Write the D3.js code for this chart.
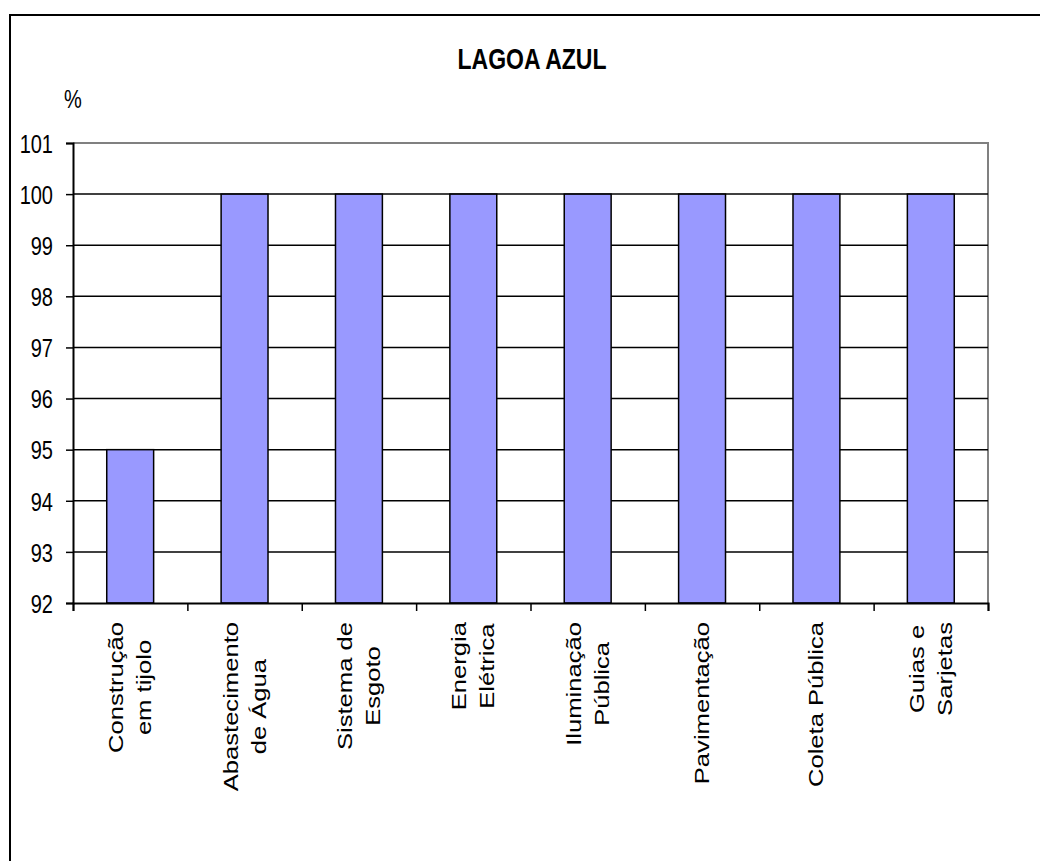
<!DOCTYPE html>
<html>
<head>
<meta charset="utf-8">
<script src="https://cdn.jsdelivr.net/npm/d3@7"></script>
<style>
  body { margin: 0; background: #fff; }
  svg { display: block; font-family: "Liberation Sans", Arial, sans-serif; }
</style>
</head>
<body>
<svg id="chart" width="1040" height="861"></svg>
<script>
const categories = [
    ["Construção", "em tijolo"],
    ["Abastecimento", "de Água"],
    ["Sistema de", "Esgoto"],
    ["Energia", "Elétrica"],
    ["Iluminação", "Pública"],
    ["Pavimentação"],
    ["Coleta Pública"],
    ["Guias e", "Sarjetas"]
];
const values = [95, 100, 100, 100, 100, 100, 100, 100];
const yTicks = [92, 93, 94, 95, 96, 97, 98, 99, 100, 101];

const svg = d3.select("#chart");
const S = 1.28; // the original picture is stretched vertically
const margin = {top: 143, right: 52, bottom: 258, left: 73};
const width = 1040 - margin.right;
const height = 861 - margin.bottom;

// outer frame (right and bottom edges fall outside the picture)
svg.append("rect")
    .attr("x", 10).attr("y", 15)
    .attr("width", 1100).attr("height", 1000)
    .attr("fill", "none")
    .attr("stroke", "#000")
    .attr("stroke-width", 2);

const x = d3.scaleBand()
    .domain(d3.range(categories.length))
    .range([margin.left, width]);

const y = d3.scaleLinear()
    .domain([92, 101])
    .range([height, margin.top]);

// plot border (top and right gray)
svg.append("path")
    .attr("d", `M${margin.left},${margin.top}H${width}V${height}`)
    .attr("fill", "none")
    .attr("stroke", "#808080")
    .attr("stroke-width", 2);

// gridlines
svg.append("g")
    .selectAll("line")
    .data(yTicks.filter(d => d > 92 && d < 101))
    .enter()
    .append("line")
    .attr("x1", margin.left).attr("x2", width)
    .attr("y1", d => y(d)).attr("y2", d => y(d))
    .attr("stroke", "#000")
    .attr("stroke-width", 1.5);

// bars
const barW = x.bandwidth() * 0.41;
svg.append("g")
    .selectAll("rect")
    .data(values)
    .enter()
    .append("rect")
    .attr("x", (d, i) => x(i) + x.bandwidth() / 2 - barW / 2)
    .attr("y", d => y(d))
    .attr("width", barW)
    .attr("height", d => y(92) - y(d))
    .attr("fill", "#9999FF")
    .attr("stroke", "#000")
    .attr("stroke-width", 1.5);

// y axis
const yAxis = svg.append("g")
    .attr("transform", `translate(${margin.left},0)`)
    .call(d3.axisLeft(y).tickValues(yTicks).tickSize(7).tickFormat(d3.format("d")));
yAxis.select(".domain").attr("stroke", "#000").attr("stroke-width", 2);
yAxis.selectAll(".tick line").attr("stroke", "#000").attr("stroke-width", 1.5);
yAxis.selectAll(".tick text").remove();
yAxis.selectAll(".tick")
    .append("g")
    .attr("transform", `translate(-20,0) scale(1,${S})`)
    .append("text")
    .attr("text-anchor", "end")
    .attr("dy", "0.36em")
    .attr("font-size", 20)
    .attr("fill", "#000")
    .text(d => d);

// x axis
const xAxis = svg.append("g")
    .attr("transform", `translate(0,${height})`)
    .call(d3.axisBottom(d3.scaleLinear().domain([0, 8]).range([margin.left, width]))
        .tickValues(d3.range(9)).tickSize(8).tickFormat(""));
xAxis.select(".domain").attr("stroke", "#000").attr("stroke-width", 2);
xAxis.selectAll(".tick line").attr("stroke", "#000").attr("stroke-width", 1.5);

// category labels, rotated
const lh = 28;
categories.forEach((lines, i) => {
    const g = svg.append("g")
        .attr("transform", `translate(${x(i) + x.bandwidth() / 2},622) scale(1,${S})`);
    const texts = lines.map((t, k) => g.append("text")
        .attr("transform", "rotate(-90)")
        .attr("text-anchor", "middle")
        .attr("dominant-baseline", "central")
        .attr("font-size", 20)
        .attr("fill", "#000")
        .attr("y", (k - (lines.length - 1) / 2) * lh)
        .text(t));
    const maxLen = d3.max(texts, t => t.node().getComputedTextLength());
    texts.forEach(t => t.attr("x", -maxLen / 2));
});

// title
svg.append("g")
    .attr("transform", `translate(532,69) scale(1,${S})`)
    .append("text")
    .attr("text-anchor", "middle")
    .attr("font-size", 23)
    .attr("font-weight", "bold")
    .attr("fill", "#000")
    .text("LAGOA AZUL");

// unit label
svg.append("g")
    .attr("transform", `translate(64,108) scale(1,${S})`)
    .append("text")
    .attr("font-size", 20)
    .attr("fill", "#000")
    .text("%");
</script>
</body>
</html>
